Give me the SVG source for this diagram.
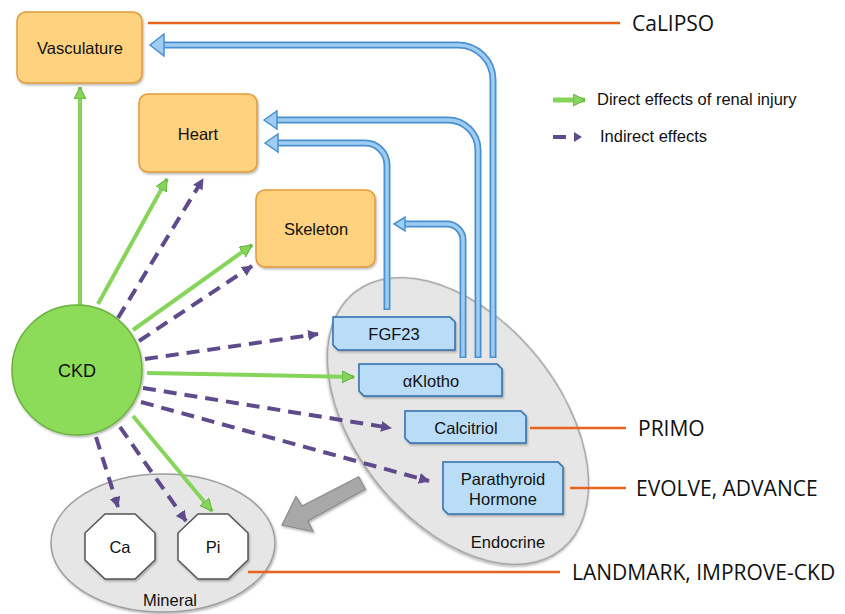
<svg xmlns="http://www.w3.org/2000/svg" width="845" height="614" viewBox="0 0 845 614">
<defs>
<style>
.t{font-family:"Liberation Sans",Arial,sans-serif;font-size:16.5px;fill:#111;text-anchor:middle}
.trial{font-family:"Open Sans","Liberation Sans",sans-serif;font-size:21px;fill:#111}
.organ{fill:#FFD27F;stroke:#E39A3E;stroke-width:1.5}
.hb{fill:#B9DDF7;stroke:#2F6EAD;stroke-width:1.5}
.grp{fill:#E6E6E6;stroke:#9E9E9E;stroke-width:1.5}
.oct{fill:#FFFFFF;stroke:#555;stroke-width:1.5}
.po{fill:none;stroke:#4A90D0;stroke-width:7}
.pi{fill:none;stroke:#9FCDF1;stroke-width:3.5}
.ph{fill:#9FCDF1;stroke:#4A90D0;stroke-width:1.5;stroke-linejoin:miter}
.g{fill:none;stroke:#86D55A;stroke-width:4}
.p{fill:none;stroke:#5F4B8B;stroke-width:4;stroke-dasharray:13 8}
.or{fill:none;stroke:#E8641E;stroke-width:2.5}
</style>
<filter id="sh" x="-20%" y="-20%" width="140%" height="140%">
<feDropShadow dx="1" dy="1.5" stdDeviation="1" flood-color="#000" flood-opacity="0.3"/>
</filter>
<marker id="ag" markerUnits="userSpaceOnUse" markerWidth="14" markerHeight="14" refX="12" refY="6" orient="auto">
<path d="M0,0 L12,6 L0,12 z" fill="#86D55A" stroke="#5FAE3A" stroke-width="1"/>
</marker>
<marker id="ap" markerUnits="userSpaceOnUse" markerWidth="14" markerHeight="14" refX="10" refY="5.5" orient="auto">
<path d="M0,0 L11,5.5 L0,11 z" fill="#5F4B8B"/>
</marker>
</defs>
<rect width="845" height="614" fill="#FFFFFF"/>

<g id="endocrine-group">
<ellipse class="grp" cx="458" cy="421" rx="165" ry="102" transform="rotate(51 458 421)" filter="url(#sh)"/>
<text class="t" x="508" y="548">Endocrine</text>
</g>

<g id="mineral-group">
<ellipse class="grp" cx="163" cy="543" rx="112" ry="69" filter="url(#sh)"/>
<text class="t" x="170" y="606">Mineral</text>
</g>

<g id="connectors">
<line class="or" x1="148" y1="23" x2="620" y2="23"/>
<line class="or" x1="530" y1="428" x2="626" y2="428"/>
<line class="or" x1="570" y1="488" x2="626" y2="488"/>
<line class="or" x1="248" y1="572" x2="560" y2="572"/>

<path class="po" d="M493,358 V80 A35,35 0 0 0 458,45 H163"/>
<path class="pi" d="M493,356.5 V80 A35,35 0 0 0 458,45 H163"/>
<polygon class="ph" points="150,45 164,34 164,56"/>
<path class="po" d="M478,358 V150 A30,30 0 0 0 448,120 H277"/>
<path class="pi" d="M478,356.5 V150 A30,30 0 0 0 448,120 H277"/>
<polygon class="ph" points="264,120 277,111 277,129"/>
<path class="po" d="M387,310 V165 A22,22 0 0 0 365,143 H278"/>
<path class="pi" d="M387,308.5 V165 A22,22 0 0 0 365,143 H278"/>
<polygon class="ph" points="265,143 278,134 278,152"/>
<path class="po" d="M463,358 V240 A16,16 0 0 0 447,224 H405"/>
<path class="pi" d="M463,356.5 V240 A16,16 0 0 0 447,224 H405"/>
<polygon class="ph" points="394,224 405,217 405,231"/>

<line class="g" x1="80" y1="305" x2="80" y2="87" marker-end="url(#ag)"/>
<line class="g" x1="98" y1="304" x2="167" y2="179" marker-end="url(#ag)"/>
<line class="g" x1="133" y1="330" x2="252" y2="245" marker-end="url(#ag)"/>
<line class="g" x1="147" y1="373" x2="354" y2="377" marker-end="url(#ag)"/>
<line class="g" x1="133" y1="416" x2="212" y2="511" marker-end="url(#ag)"/>

<line class="p" x1="118" y1="318" x2="203" y2="179" marker-end="url(#ap)"/>
<line class="p" x1="139" y1="341" x2="252" y2="266" marker-end="url(#ap)"/>
<line class="p" x1="145" y1="359" x2="318" y2="334" marker-end="url(#ap)"/>
<line class="p" x1="143" y1="388" x2="391" y2="428" marker-end="url(#ap)"/>
<line class="p" x1="141" y1="402" x2="429" y2="481" marker-end="url(#ap)"/>
<line class="p" x1="96" y1="437" x2="118" y2="507" marker-end="url(#ap)"/>
<line class="p" x1="120" y1="427" x2="186" y2="521" marker-end="url(#ap)"/>

<polygon points="358.7,476.8 302,506 296,496.5 282,525 313,531.5 308,521 365.3,489.2" fill="#A8A8A8" stroke="#8A8A8A" stroke-width="1.2" filter="url(#sh)"/>
</g>

<g id="vasculature">
<rect class="organ" x="17" y="12" width="125" height="71" rx="9" filter="url(#sh)"/>
<text class="t" x="80" y="54">Vasculature</text>
</g>
<g id="heart">
<rect class="organ" x="139" y="94" width="118" height="78" rx="9" filter="url(#sh)"/>
<text class="t" x="198" y="140">Heart</text>
</g>
<g id="skeleton">
<rect class="organ" x="256" y="190" width="119" height="77" rx="9" filter="url(#sh)"/>
<text class="t" x="316" y="235">Skeleton</text>
</g>

<g id="ckd">
<circle cx="77" cy="370" r="65" fill="#8CDC5A" stroke="#6BB23E" stroke-width="1.5" filter="url(#sh)"/>
<text class="t" x="77" y="377" style="font-size:18px">CKD</text>
</g>

<g id="fgf23">
<polygon class="hb" points="333,317 450,317 455,322 455,350 338,350 333,345" filter="url(#sh)"/>
<text class="t" x="394" y="340">FGF23</text>
</g>
<g id="aklotho">
<polygon class="hb" points="359,364 497,364 502,369 502,396 364,396 359,391" filter="url(#sh)"/>
<text class="t" x="431" y="387">αKlotho</text>
</g>
<g id="calcitriol">
<polygon class="hb" points="405,411 521,411 526,416 526,443 410,443 405,438" filter="url(#sh)"/>
<text class="t" x="466" y="434">Calcitriol</text>
</g>
<g id="pth">
<polygon class="hb" points="443,462 558,462 563,467 563,514 448,514 443,509" filter="url(#sh)"/>
<text class="t" x="503" y="485">Parathyroid</text>
<text class="t" x="503" y="505">Hormone</text>
</g>

<g id="ca">
<polygon class="oct" points="105,514 135,514 155,533 155,560 135,579 105,579 85,560 85,533" filter="url(#sh)"/>
<text class="t" x="120" y="553">Ca</text>
</g>
<g id="pi">
<polygon class="oct" points="198,514 228,514 248,533 248,560 228,579 198,579 178,560 178,533" filter="url(#sh)"/>
<text class="t" x="213" y="553">Pi</text>
</g>

<g id="trials">
<text class="trial" x="632" y="31">CaLIPSO</text>
<text class="trial" x="638" y="436">PRIMO</text>
<text class="trial" x="636" y="496">EVOLVE, ADVANCE</text>
<text class="trial" x="572" y="580">LANDMARK, IMPROVE-CKD</text>
</g>

<g id="legend">
<line x1="553" y1="100" x2="585" y2="100" stroke="#86D55A" stroke-width="5" marker-end="url(#ag)"/>
<text class="t" x="597" y="105" style="text-anchor:start">Direct effects of renal injury</text>
<line x1="553" y1="137" x2="566" y2="137" stroke="#5F4B8B" stroke-width="4"/>
<path d="M574,132 L582,137 L574,142 z" fill="#5F4B8B"/>
<text class="t" x="600" y="142" style="text-anchor:start">Indirect effects</text>
</g>
</svg>
